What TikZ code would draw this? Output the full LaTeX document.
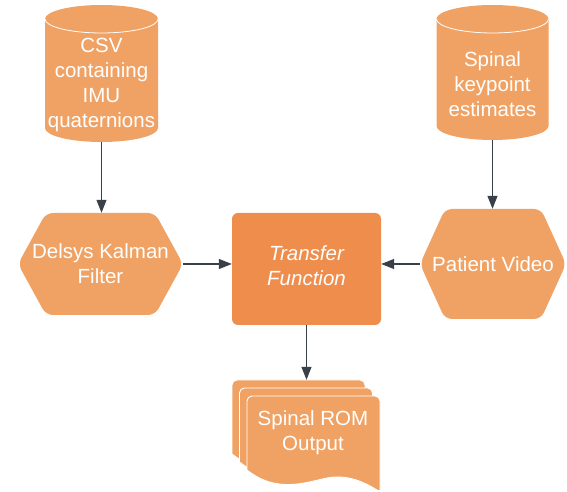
\documentclass[tikz,border=0pt]{standalone}
\usepackage{fontspec}
\setmainfont{Liberation Sans}
\usetikzlibrary{arrows.meta,calc}

\definecolor{lightorange}{RGB}{240,162,100}
\definecolor{deeporange}{RGB}{239,141,77}
\definecolor{arrowgray}{RGB}{58,64,72}

\tikzset{
  txt/.style={text=white, align=center, font=\fontsize{20.5}{25}\selectfont},
  % storage cylinder drawn inside the node's rectangle
  cylbox/.style={draw=none, inner sep=0pt, path picture={
    \fill[lightorange] let \p1=(path picture bounding box.south west),
                           \p2=(path picture bounding box.north east),
                           \n1={(\x2-\x1)/2} in
      (\x1,\y2-14pt) -- (\x1,\y1+14pt)
      arc[start angle=180, end angle=360, x radius=\n1, y radius=14pt]
      -- (\x2,\y2-14pt)
      arc[start angle=0, end angle=180, x radius=\n1, y radius=14pt] -- cycle;
    \draw[white, line width=0.8pt] let \p1=(path picture bounding box.south west),
                           \p2=(path picture bounding box.north east),
                           \n1={(\x2-\x1)/2} in
      (\x1,\y2-14pt)
      arc[start angle=180, end angle=360, x radius=\n1, y radius=14pt];
  }},
  % elongated hexagon, #1 = horizontal inset of the slanted sides
  hexbox/.style={draw=none, inner sep=0pt, path picture={
    \fill[lightorange, rounded corners=7pt]
      let \p1=(path picture bounding box.south west),
          \p2=(path picture bounding box.north east) in
      (\x1,{(\y1+\y2)/2}) -- (\x1+#1,\y2) -- (\x2-#1,\y2)
      -- (\x2,{(\y1+\y2)/2}) -- (\x2-#1,\y1) -- (\x1+#1,\y1) -- cycle;
  }},
  procbox/.style={fill=deeporange, rounded corners=6pt, inner sep=0pt},
  % stack of three wavy-bottomed pages
  docstack/.style={draw=none, inner sep=0pt, path picture={
    \foreach \k in {0,1,2} {
      \filldraw[fill=lightorange, draw=white, line width=0.9pt]
        let \p1=(path picture bounding box.south west),
            \p2=(path picture bounding box.north east),
            \n1={\x1+7.5pt*\k}, \n2={\y2-8pt*\k} in
        [rounded corners=5pt] (\n1,\n2-74pt) -- (\n1,\n2) -- (\n1+133pt,\n2)
        [sharp corners] -- (\n1+133pt,\n2-96pt)
        .. controls (\n1+118pt,\n2-86pt) and (\n1+100pt,\n2-78pt) .. (\n1+80pt,\n2-82pt)
        .. controls (\n1+60pt,\n2-86pt) and (\n1+30pt,\n2-98pt) .. (\n1,\n2-74pt) -- cycle;
    }
  }},
  arr/.style={draw=arrowgray, line width=1.1pt, -{Triangle[length=13pt,width=10pt]}}
}

\begin{document}
\begin{tikzpicture}[x=1pt, y=1pt]
  \useasboundingbox (0,0) rectangle (567,492);

  % data sources
  \node[cylbox, minimum width=113pt, minimum height=137pt,
        label={[txt, yshift=-11pt]center:{CSV\\containing\\IMU\\quaternions}}]
        (csv) at (101.5,418.5) {};
  \node[cylbox, minimum width=112pt, minimum height=135pt,
        label={[txt, yshift=-12pt]center:{Spinal\\keypoint\\estimates}}]
        (kp) at (492.5,419.5) {};

  % preprocessing stages
  \node[hexbox=28pt, minimum width=165pt, minimum height=102pt, txt]
        (kal) at (100.5,228) {Delsys Kalman\\Filter};
  \node[hexbox=25pt, minimum width=146pt, minimum height=110pt, txt]
        (vid) at (493,228) {Patient Video};

  % central process
  \node[procbox, minimum width=149pt, minimum height=112pt,
        label={[txt, font=\fontsize{20.5}{25}\selectfont\itshape, yshift=3pt]center:{Transfer\\Function}}]
        (tf) at (306.5,223) {};

  % output documents
  \node[docstack, minimum width=148pt, minimum height=110pt,
        label={[txt, xshift=7pt, yshift=2pt]center:{Spinal ROM\\Output}}]
        (rom) at (306,57) {};

  % connectors
  \draw[arr] (csv.south) -- (csv.south |- kal.north);
  \draw[arr] (kp.south) -- (kp.south |- vid.north);
  \draw[arr] (kal.east) -- (kal.east -| tf.west);
  \draw[arr] (vid.west) -- (vid.west -| tf.east);
  \draw[arr] (tf.south) -- (tf.south |- rom.north);
\end{tikzpicture}
\end{document}
